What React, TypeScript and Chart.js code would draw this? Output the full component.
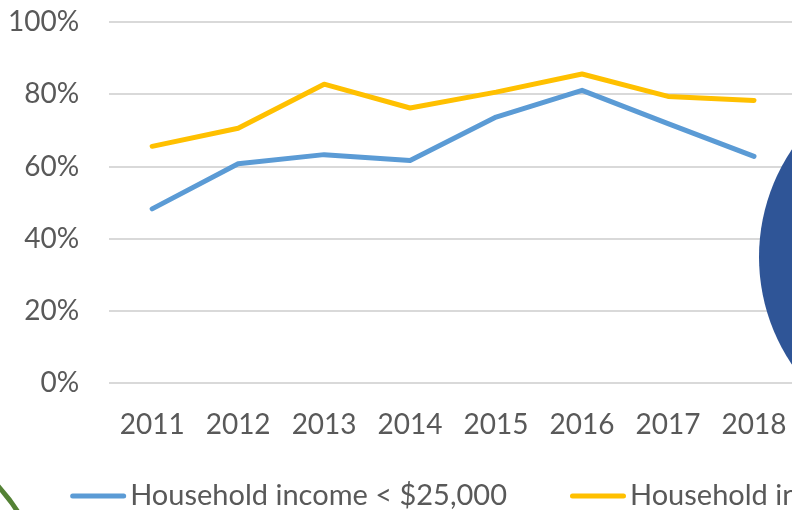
import React, { useEffect, useRef } from "react";
import { Chart, registerables } from "chart.js";

Chart.register(...registerables);

const years = ["2011", "2012", "2013", "2014", "2015", "2016", "2017", "2018"];
const lowIncome = [48.3, 60.8, 63.3, 61.7, 73.7, 81.1, 71.9, 62.8];
const highIncome = [65.6, 70.6, 82.8, 76.2, 80.6, 85.6, 79.4, 78.3];
const seriesLabels = ["Household income < $25,000", "Household income > $75,000"];
const seriesColors = ["#5B9BD5", "#FFC000"];
const yMin = 0;
const yMax = 100;
const yStep = 20;

const FONT = "Lato, 'Open Sans', sans-serif";
const TEXT = "#595959";

const bottomLegend = {
  id: "bottomLegend",
  afterDraw(chart: any) {
    const ctx = chart.ctx as CanvasRenderingContext2D;
    const area = chart.chartArea;
    const y = 496;
    let x = area.left - 39;
    ctx.save();
    ctx.font = `29px ${FONT}`;
    ctx.textBaseline = "middle";
    ctx.textAlign = "left";
    chart.data.datasets.forEach((ds: any) => {
      ctx.strokeStyle = ds.borderColor;
      ctx.lineWidth = 5;
      ctx.lineCap = "round";
      ctx.beginPath();
      ctx.moveTo(x + 2.5, y);
      ctx.lineTo(x + 53.5, y);
      ctx.stroke();
      ctx.fillStyle = TEXT;
      ctx.fillText(ds.label, x + 60, y);
      x += 60 + ctx.measureText(ds.label).width + 63;
    });
    ctx.restore();
  },
};

export default function App() {
  const ref = useRef<HTMLCanvasElement | null>(null);

  useEffect(() => {
    if (!ref.current) return;
    const chart = new Chart(ref.current, {
      type: "line",
      data: {
        labels: years,
        datasets: [lowIncome, highIncome].map((d, i) => ({
          label: seriesLabels[i],
          data: d,
          borderColor: seriesColors[i],
          backgroundColor: seriesColors[i],
          borderWidth: 5,
          borderCapStyle: "round" as const,
          borderJoinStyle: "round" as const,
          pointRadius: 0,
          tension: 0,
        })),
      },
      options: {
        responsive: false,
        animation: false,
        layout: { padding: { left: -22, top: 0, right: 303, bottom: 51 } },
        plugins: {
          tooltip: { enabled: false },
          legend: { display: false },
        },
        scales: {
          x: {
            offset: true,
            grid: { display: false },
            border: { display: false },
            ticks: { color: TEXT, font: { family: FONT, size: 28 }, padding: 17 },
          },
          y: {
            min: yMin,
            max: yMax,
            grid: { color: "#D9D9D9", lineWidth: 2, drawTicks: false },
            border: { display: false },
            afterFit: (scale: any) => {
              scale.paddingTop = 22;
              scale.paddingBottom = 17;
            },
            ticks: {
              stepSize: yStep,
              color: TEXT,
              font: { family: FONT, size: 28 },
              padding: 30,
              callback: (v: any) => v + "%",
            },
          },
        },
      },
      plugins: [bottomLegend],
    });
    return () => chart.destroy();
  }, []);

  return (
    <div style={{ position: "fixed", left: 0, top: 0, width: 792, height: 510, overflow: "hidden", background: "#fff" }}>
      <div style={{ position: "relative", width: 1100, height: 510 }}>
        <canvas ref={ref} width={1100} height={510} style={{ display: "block" }} />
        <div
          style={{
            position: "absolute",
            left: 759,
            top: 65,
            width: 384,
            height: 384,
            borderRadius: "50%",
            background: "#2F5597",
          }}
        />
        <div
          style={{
            position: "absolute",
            left: -348,
            top: 419,
            width: 400,
            height: 400,
            borderRadius: "50%",
            border: "5px solid #548235",
            boxSizing: "border-box",
          }}
        />
      </div>
    </div>
  );
}
